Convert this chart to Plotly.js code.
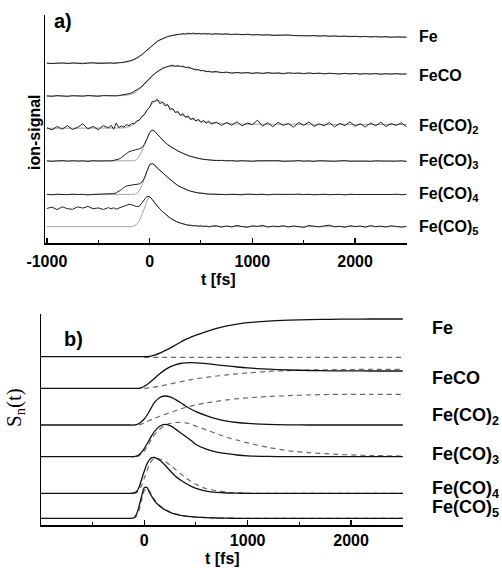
<!DOCTYPE html>
<html><head><meta charset="utf-8">
<script src="https://cdn.plot.ly/plotly-3.0.1.min.js"></script>
<style>html,body{margin:0;padding:0;background:#fff}#chart{width:502px;height:568px}</style>
</head><body><div id="chart"></div><script>
// ---------- panel a: measured ion signals (height above each trace's baseline) ----------
const tA = [-1000,-950,-900,-850,-800,-750,-700,-650,-600,-550,-500,-450,-400,
  -375,-350,-325,-300,-275,-250,-225,-200,-175,-150,-125,-100,-75,-50,-25,0,25,50,75,100,125,150,175,200,225,250,275,300,325,350,375,400,425,450,475,500,525,550,575,600,
  650,700,750,800,850,900,950,1000,1050,1100,1150,1200,1250,1300,1350,1400,1450,1500,1550,1600,1650,1700,1750,1800,1850,1900,1950,2000,2050,2100,2150,2200,2250,2300,2350,2400,2450,2500];
const labelsA = ['Fe','FeCO','Fe(CO)<sub>2</sub>','Fe(CO)<sub>3</sub>','Fe(CO)<sub>4</sub>','Fe(CO)<sub>5</sub>'];
const baseA = [179.7,147,114.7,82,48.5,16.3];
const tickValsA = [-1000,0,1000,2000];
const tickTextA = ['-1000','0','1000','2000'];
const tickValsB = [0,1000,2000];
const tickTextB = ['0','1000','2000'];

const sigFe = [0.2,-0.3,0.1,0.4,-0.2,0.3,0,-0.4,0.2,0.5,-0.1,0.3,0.1,
  0.3,-0.1,0.4,0.5,0.8,1.1,1.6,2.2,3.0,4.0,5.3,6.9,8.8,11.0,13.6,15.9,18.2,20.2,22.0,23.4,24.8,25.7,26.8,27.3,28.1,28.4,29.1,29.0,29.7,29.3,30.1,29.6,30.2,29.5,29.9,29.3,29.8,29.4,29.7,29.1,
  29.6,29.1,29.5,28.8,29.2,28.6,29.0,28.4,28.7,28.2,28.6,27.9,28.3,28.0,28.4,27.7,27.5,28.0,27.4,27.7,27.2,27.6,27.0,27.3,26.8,27.2,26.6,27.0,26.5,26.9,26.3,26.7,26.2,26.6,26.0,26.4,25.9,26.1];
const sigFeCO = [0.1,-0.3,0.4,0,-0.4,0.3,0.1,-0.2,0.5,0,-0.3,0.4,0.1,
  -0.2,0.3,0.1,0.5,0.8,1.2,1.7,2.4,3.1,4.4,5.8,7.7,9.8,12.6,15.2,18.0,20.3,22.5,24.6,26.1,27.8,28.7,30.0,30.3,30.8,29.7,30.4,29.5,29.9,28.6,28.9,27.7,27.2,26.0,26.4,25.1,25.5,24.2,24.8,24.0,
  24.5,23.4,23.9,22.8,23.6,22.9,23.5,22.6,23.3,22.5,23.4,22.7,23.1,22.2,23.2,22.6,23.0,22.3,23.1,22.4,22.9,22.1,22.8,22.5,21.9,22.7,22.0,22.6,21.8,22.4,22.0,22.5,21.7,22.3,21.9,22.4,21.8,22.1];
const sigFeCO2 = [0.5,-1.5,1.8,-0.8,2.6,-1.2,1.0,4.5,-0.6,1.9,-1.4,2.8,0.2,
  3.1,-0.9,5.2,0.8,2.4,1.2,3.6,2.5,4.8,4.6,7.4,8.1,11.9,13.6,18.4,20.9,26.8,27.1,29.0,24.6,26.3,22.4,23.9,18.6,19.8,15.7,16.9,12.8,14.6,10.9,12.4,8.7,10.3,7.2,9.1,5.9,8.0,5.1,7.3,4.2,
  6.2,2.8,5.9,3.1,6.6,2.4,5.2,3.6,8.1,2.2,5.5,1.6,6.0,2.9,4.8,1.2,5.7,3.0,6.3,1.9,4.4,2.6,5.8,1.4,4.9,2.7,6.4,2.1,4.6,1.3,5.3,2.5,6.1,1.8,4.7,2.9,5.4,1.6];
const sigFeCO3 = [0.2,-0.3,0.1,0.4,-0.2,0.3,-0.1,0.2,-0.4,0.3,0,0.4,0.2,
  0.1,0.5,0.9,1.8,3.4,5.3,7.6,9.3,10.1,10.7,11.2,12.2,13.4,16.8,22.4,28.3,31.0,29.6,26.8,23.7,21.0,18.6,16.4,14.6,12.9,11.4,10.0,8.8,7.5,6.5,5.4,4.6,3.8,3.2,2.5,2.1,1.6,1.3,1.0,0.9,
  0.4,0.6,0.1,0.4,-0.2,0.3,0,-0.3,0.2,0.4,-0.1,0.1,0.3,-0.3,0.2,0,0.4,-0.2,0.1,-0.4,0.3,0,0.2,-0.3,0.1,0.4,-0.2,0,0.3,-0.1,-0.4,0.2,0,-0.3,0.1,-0.2,0.2,-0.5];
const sigFeCO4 = [0.1,-0.3,0.3,0,-0.2,0.4,-0.1,0.2,-0.4,0.1,0.3,-0.2,0.2,
  0.4,0.9,1.6,2.9,4.8,7.0,8.6,9.0,9.3,9.4,9.9,10.6,12.4,16.5,23.5,29.8,31.0,29.4,26.5,23.9,21.6,19.6,17.2,14.9,12.6,10.7,8.9,7.6,6.3,5.2,4.1,3.3,2.6,2.1,1.5,1.3,0.8,0.7,0.3,0.4,
  0.1,0.3,-0.2,0.2,0,-0.3,0.4,0.1,-0.1,0.3,-0.4,0.2,0,0.3,-0.2,0.1,0.4,-0.1,0.2,-0.3,0,0.3,-0.2,0.1,0.2,-0.4,0.3,0,-0.1,0.4,-0.3,0.1,0.2,-0.2,0,0.3,-0.3,0.1];
const sigFeCO5 = [18.2,19.6,17.1,19.9,18.0,17.4,19.8,18.6,20.3,17.9,18.8,17.2,19.1,
  17.8,18.9,17.5,18.6,19.4,20.6,21.7,22.4,21.9,21.0,20.1,20.5,23.6,27.8,30.4,29.9,27.4,23.8,20.4,17.7,15.2,12.9,10.6,8.6,7.1,5.6,4.3,3.6,2.6,2.2,1.4,1.5,0.8,1.1,0.4,0.9,0.2,0.7,-0.2,0.5,
  1.0,-0.5,0.8,-0.2,1.3,0.1,-0.6,0.9,0.3,1.4,-0.4,0.6,0.0,1.1,-0.3,0.8,0.2,-0.7,1.2,0.4,-0.2,0.9,1.5,-0.1,0.5,-0.6,1.0,0.2,0.7,-0.4,1.2,0.0,0.6,-0.3,0.9,0.3,-0.5,0.4];

// fits (grey curves) in panel a
const tFitA = [-1000,-400,-300,-250,-200,-175,-150,-125,-100,-75,-50,-25,0,25,50,75,100,125,150,175,200,250,300,350,400,450,500,600,700,800,1000,1500,2000,2500];
const fitFe    = [0,0,0.2,0.7,1.6,2.3,3.3,4.6,6.3,8.3,10.6,13.0,15.4,17.7,19.8,21.7,23.2,24.6,25.7,26.6,27.3,28.3,28.9,29.2,29.4,29.4,29.4,29.2,29.0,28.8,28.4,27.5,26.8,26.1];
const fitFeCO  = [0,0,0.1,0.4,1.2,2.0,3.2,4.7,6.5,8.8,11.5,14.3,17.2,19.8,22,24.1,25.8,27.2,28.4,29.2,29.6,29.9,29.5,28.6,27.5,26.4,25.4,24,23.4,23.1,22.9,22.7,22.3,22.0];
const fitFeCO2 = [0,0,0,0.4,1.5,2.6,4.0,5.9,8.3,11.2,14.5,18.0,21.5,24.5,26.6,27.6,27.4,26.2,24.5,22.5,20.5,16.8,13.8,11.3,9.5,8,6.9,5.5,4.8,4.4,4.1,4.0,3.9,3.8];
const fitFeCO3 = [0,0,0,0,0,0,0.2,1.5,5,10,16.8,22.4,28.3,31,29.6,26.8,23.7,21,18.6,16.4,14.6,11.4,8.8,6.5,4.6,3.2,2.1,0.9,0.4,0.2,0.1,0,0,0];
const fitFeCO4 = [0,0,0,0,0,0,0.1,1.2,4,9,16.5,23.5,29.8,31,29.4,26.5,23.9,21.6,19.6,17.2,14.9,10.7,7.6,5.2,3.3,2.1,1.3,0.4,0.2,0.1,0,0,0,0];
const fitFeCO5 = [0,0,0,0,0,0,0.8,2.5,6,11.5,18.5,26,29.9,27.4,23.8,20.4,17.7,15.2,12.9,10.6,8.6,5.6,3.6,2.2,1.4,0.9,0.5,0.2,0.1,0,0,0,0,0];

// ---------- panel b: model curves S_n(t) ----------
const tB = [-1000,-200,-150,-100,-75,-50,-25,0,25,50,75,100,150,200,250,300,350,400,450,500,600,700,800,900,1000,1200,1400,1600,1800,2000,2200,2500];
const labelsB = labelsA;
const baseB = [168.3,136.7,100,68.3,31.7,6.7];
const solFe    = [0,0,0,0,0,0,0,0,0.1,0.3,0.8,1.5,3.5,6,8.5,11.5,14.5,17.3,19.5,21.5,25,28.3,30.8,32.6,34,35.6,36.5,37.1,37.4,37.6,37.7,37.7];
const solFeCO  = [0,0,0,0,0,0,0.6,2,3.6,5.5,7.7,10,14.5,18.4,21.5,23.5,24.8,25.4,25.6,25.4,24.6,23.5,22.4,21.3,20.4,19.1,18.3,17.8,17.5,17.4,17.3,17.3];
const solFeCO2 = [0,0,0,0,0.4,1.5,3.5,6,9.5,13.8,18.5,22.6,27.5,29,28.2,25.6,22.5,19,16,13.4,9.4,6.1,3.9,2.5,1.6,0.6,0.2,0,0,0,0,0];
const solFeCO3 = [0,0,0,0,0.5,2,4.5,8,12.5,17,21.5,25.3,30.5,32.4,31,27.8,24,20.2,16.5,12.2,7.5,4.6,3.0,1.7,0.9,0.3,0.1,0,0,0,0,0];
const solFeCO4 = [0,0,0,0.3,1.5,6,14,22,29,33.5,35.6,35.8,33,28.3,22.5,17.3,13.3,10,7.2,5,2.2,0.9,0.3,0.1,0,0,0,0,0,0,0,0];
const solFeCO5 = [0,0,0,0.5,4,12,22,30.5,31,26,21.5,17.5,12,8.5,6,4.2,3,2.2,1.6,1.2,0.6,0.3,0.1,0,0,0,0,0,0,0,0,0];
const dshFe    = [null,null,null,null,null,null,null,-0.6,-0.6,-0.6,-0.6,-0.6,-0.6,-0.6,-0.6,-0.6,-0.6,-0.6,-0.6,-0.6,-0.6,-0.6,-0.6,-0.6,-0.6,-0.6,-0.6,-0.6,-0.6,-0.6,-0.6,-0.6];
const dshFeCO  = [null,null,null,null,null,null,null,0,0.2,0.4,0.8,1.2,2.2,3.2,4.3,5.4,6.5,7.6,8.6,9.5,11,12.3,13.5,14.5,15.4,16.8,17.7,18.3,18.6,18.8,18.9,19];
const dshFeCO2 = [null,null,null,null,null,0,1,2,3.3,4.5,5.6,6.7,8.8,10.6,12.4,14.2,15.9,17.5,18.9,20.1,22.1,23.7,25.1,26.3,27.2,28.5,29.4,30.1,30.5,30.7,30.7,30.7];
const dshFeCO3 = [null,null,null,null,0,1,3,5.5,9.5,14,18.5,22,27.5,31,33.3,34.2,34.4,33.8,32.5,30.6,26.8,23,19.5,16.5,13.8,9.3,5.9,4.0,2.7,1.8,1.2,0.7];
const dshFeCO4 = [null,null,null,0,0.5,3,8,15,22,28.5,33,35,34.3,32,28.2,24,19.8,15.6,12,9,4.6,2.6,1.2,0.4,0.1,0,0,0,0,0,0,0];
const dshFeCO5 = [null,null,null,0,2,8,18,27.5,30,27.5,22.5,18.5,12.8,9,6.4,4.5,3.2,2.3,1.7,1.2,0.6,0.3,0.1,0,0,0,0,0,0,0,0,0];

// ---------- build ----------
const W = 502, H = 568;
const px = x => x / W, py = y => 1 - y / H;
const shift = (v, o) => v.map(d => d === null ? null : d + o);

const sigA = [sigFe, sigFeCO, sigFeCO2, sigFeCO3, sigFeCO4, sigFeCO5];
const fitA = [fitFe, fitFeCO, fitFeCO2, fitFeCO3, fitFeCO4, fitFeCO5];
const solB = [solFe, solFeCO, solFeCO2, solFeCO3, solFeCO4, solFeCO5];
const dshB = [dshFe, dshFeCO, dshFeCO2, dshFeCO3, dshFeCO4, dshFeCO5];

const traces = [];
for (let i = 0; i < 6; i++) {
  traces.push({x: tFitA, y: shift(fitA[i], baseA[i]), xaxis: 'x', yaxis: 'y', mode: 'lines',
    line: {color: '#a3a3a3', width: 1}, hoverinfo: 'skip'});
  traces.push({x: tA, y: shift(sigA[i], baseA[i]), xaxis: 'x', yaxis: 'y', mode: 'lines',
    line: {color: '#222', width: 1}, hoverinfo: 'skip'});
}
for (let i = 0; i < 6; i++) {
  traces.push({x: tB, y: shift(dshB[i], baseB[i]), xaxis: 'x2', yaxis: 'y2', mode: 'lines',
    line: {color: '#6a6a6a', width: 1.2, dash: '5px,4px', shape: 'spline', smoothing: 0.8}, hoverinfo: 'skip'});
  traces.push({x: tB, y: shift(solB[i], baseB[i]), xaxis: 'x2', yaxis: 'y2', mode: 'lines',
    line: {color: '#111', width: 1.3, shape: 'spline', smoothing: 0.8}, hoverinfo: 'skip'});
}

const SANS = 'Liberation Sans, Arial, sans-serif';
const xBase = {
  showline: true, linecolor: '#000', linewidth: 1.5, ticks: 'inside', ticklen: 5, tickwidth: 1.3, tickcolor: '#000',
  tickmode: 'array',
  minor: {tickmode: 'linear', ticks: 'inside', ticklen: 3, tickwidth: 1, tickcolor: '#000', tick0: 0, dtick: 500, showgrid: false},
  showgrid: false, zeroline: false, fixedrange: true,
  tickfont: {family: SANS, size: 16, weight: 'bold', color: '#000'}
};
const yBase = {showline: true, linecolor: '#000', linewidth: 1.5, ticks: '', showticklabels: false,
  showgrid: false, zeroline: false, fixedrange: true};

const ann = [];
const txt = (x, y, s, size, extra) => ann.push(Object.assign({xref: 'paper', yref: 'paper', x: px(x), y: py(y),
  text: s, showarrow: false, xanchor: 'center', yanchor: 'middle',
  font: {family: SANS, size: size, color: '#000'}}, extra || {}));

txt(63, 21, '<b>a)</b>', 20);
txt(73, 339, '<b>b)</b>', 20);
txt(34, 132, '<b>ion-signal</b>', 16, {textangle: -90});
txt(15, 408, 'S<sub>n</sub>(t)', 21, {textangle: -90, font: {family: 'Liberation Serif, Times New Roman, serif', size: 21, color: '#000'}});
txt(218, 279, '<b>t [fs]</b>', 16);
txt(222, 558, '<b>t [fs]</b>', 16);

const labYA = [36.3, 75.3, 126, 162, 194, 227];
const labYB = [327.5, 378, 416.7, 455.5, 489, 508];
for (let i = 0; i < 6; i++) {
  txt(417, labYA[i], '<b>' + labelsA[i] + '</b>', 16, {xanchor: 'left'});
  txt(430, labYB[i], '<b>' + labelsB[i] + '</b>', 18, {xanchor: 'left'});
}

const layout = {
  width: W, height: H, margin: {l: 0, r: 0, t: 0, b: 0},
  paper_bgcolor: '#fff', plot_bgcolor: '#fff', showlegend: false,
  xaxis: Object.assign({}, xBase, {domain: [px(45), px(407)], range: [-1018, 2505], anchor: 'y',
    tickvals: tickValsA, ticktext: tickTextA, ticklabelstandoff: 3}),
  yaxis: Object.assign({}, yBase, {domain: [py(243), py(15)], range: [0, 228], anchor: 'x'}),
  xaxis2: Object.assign({}, xBase, {domain: [px(41), px(403)], range: [-998, 2502], anchor: 'y2',
    tickvals: tickValsB, ticktext: tickTextB, ticklabelstandoff: 0}),
  yaxis2: Object.assign({}, yBase, {domain: [py(525), py(314)], range: [0, 211], anchor: 'x2'}),
  annotations: ann
};

Plotly.newPlot('chart', traces, layout, {displayModeBar: false, staticPlot: true});
</script></body></html>
